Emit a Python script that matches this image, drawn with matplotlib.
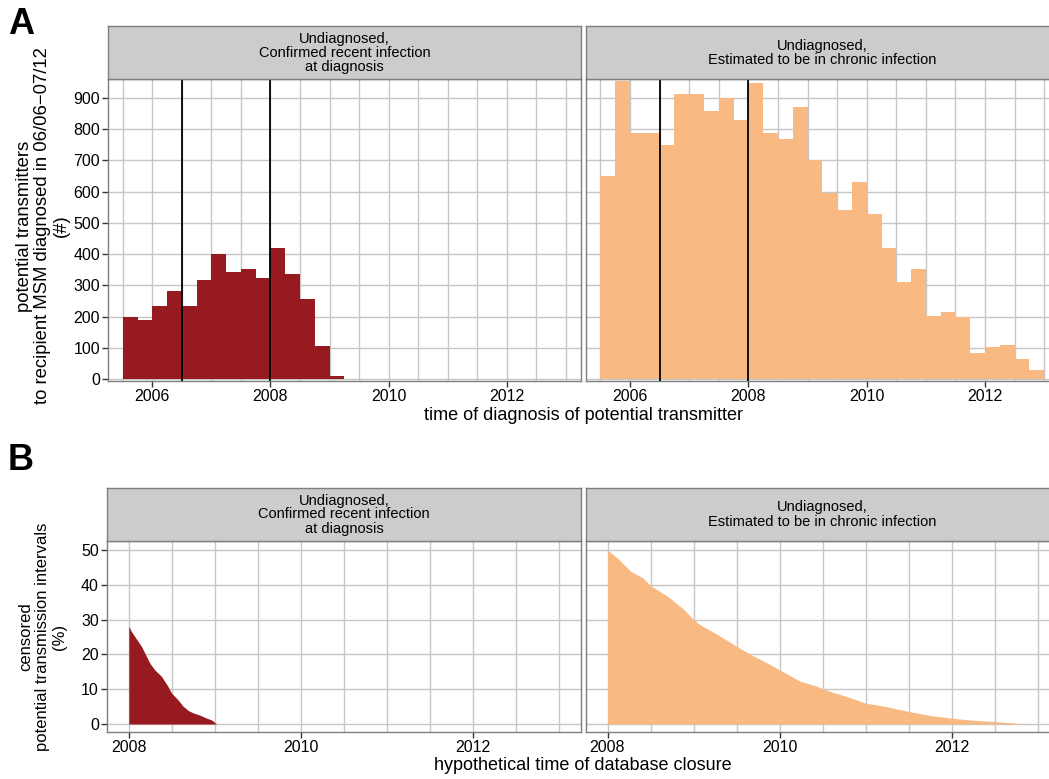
import matplotlib
matplotlib.use("Agg")
import matplotlib.pyplot as plt
import numpy as np

plt.rcParams['font.family'] = ['Liberation Sans', 'DejaVu Sans']

# ---------------- data ----------------
bin_start = 2005.5
bin_width = 0.25
recent_counts = [200, 188, 235, 283, 235, 318, 401, 344, 353, 324, 420, 337, 257, 107, 12]
chronic_counts = [650, 953, 788, 788, 749, 912, 912, 857, 900, 829, 947, 788, 768, 871,
                  700, 597, 541, 632, 529, 420, 312, 353, 203, 216, 199, 85, 103, 109, 66, 31]
vlines_A = [2006.5, 2008.0]

recent_cens_t = [2008.0, 2008.03, 2008.147, 2008.244, 2008.3, 2008.379, 2008.45, 2008.496,
                 2008.57, 2008.631, 2008.69, 2008.747, 2008.83, 2008.902, 2008.96, 2009.02, 2013.0]
recent_cens_v = [28.1, 26.6, 22.3, 17.5, 15.6, 13.7, 11.0, 8.9, 7.0, 5.1, 3.9, 3.2, 2.5, 1.7, 1.2, 0.0, 0.0]

chronic_cens_t = [2008.0, 2008.116, 2008.27, 2008.41, 2008.5, 2008.7, 2008.89, 2009.0, 2009.08,
                  2009.28, 2009.47, 2009.67, 2009.86, 2010.0, 2010.24, 2010.44, 2010.5, 2010.83,
                  2011.0, 2011.22, 2011.5, 2011.76, 2012.0, 2012.19, 2012.5, 2012.77, 2013.0]
chronic_cens_v = [50.0, 47.7, 43.9, 42.0, 39.8, 36.7, 32.9, 30.0, 28.5, 25.7, 22.8, 19.9, 17.5,
                  15.6, 12.3, 10.8, 10.1, 7.5, 6.0, 5.1, 3.6, 2.4, 1.7, 1.2, 0.7, 0.2, 0.0]

strip_left = "Undiagnosed,\nConfirmed recent infection\nat diagnosis"
strip_right = "Undiagnosed,\nEstimated to be in chronic infection"

xticks_A = [2006, 2008, 2010, 2012]
xticks_B = [2008, 2010, 2012]
yticks_A = list(range(0, 1000, 100))
yticks_B = [0, 10, 20, 30, 40, 50]

RED = '#971A20'
PEACH = '#F9B982'
GRID = '#C6C6C6'
BORDER = '#7F7F7F'
STRIP = '#CCCCCC'

W, H = 1049, 779
fig = plt.figure(figsize=(W / 100, H / 100), dpi=100)


def px_axes(x0, y0, x1, y1):
    return fig.add_axes([x0 / W, 1 - y1 / H, (x1 - x0) / W, (y1 - y0) / H])


def style_panel(ax, xlim, ylim, xticks, yticks, xgrid, show_y):
    ax.set_xlim(*xlim)
    ax.set_ylim(*ylim)
    ax.set_facecolor('white')
    for v in xgrid:
        ax.axvline(v, color=GRID, lw=1.0, zorder=0)
    for v in yticks:
        ax.axhline(v, color=GRID, lw=1.0, zorder=0)
    ax.set_xticks(xticks)
    ax.set_xticklabels([str(t) for t in xticks], fontsize=11.5)
    ax.tick_params(direction='out', length=4, width=1, color='#333333', pad=2,
                   labelcolor='black')
    if show_y:
        ax.set_yticks(yticks)
        ax.set_yticklabels([str(t) for t in yticks], fontsize=11.5)
    else:
        ax.set_yticks([])
    for s in ax.spines.values():
        s.set_color(BORDER)
        s.set_linewidth(1.0)


def strip(x0, y0, x1, y1, text):
    sax = px_axes(x0, y0, x1, y1)
    sax.set_facecolor(STRIP)
    sax.set_xticks([])
    sax.set_yticks([])
    for s in sax.spines.values():
        s.set_color(BORDER)
        s.set_linewidth(1.0)
    sax.text(0.5, 0.5, text, ha='center', va='center', fontsize=10.5,
             linespacing=1.0, transform=sax.transAxes)


xgrid_A = np.arange(2005.5, 2013.01, 0.5)
xgrid_B = np.arange(2008.0, 2013.01, 0.5)
xlim_A = (2005.255, 2013.25)
xlim_B = (2007.75, 2013.25)
ylim_A = (-4.5, 958.8)
ylim_B = (-2.3, 52.7)

edges_recent = bin_start + bin_width * np.arange(len(recent_counts))
edges_chronic = bin_start + bin_width * np.arange(len(chronic_counts))

# Panel A left
axA1 = px_axes(108.3, 79.3, 580.7, 380.7)
style_panel(axA1, xlim_A, ylim_A, xticks_A, yticks_A, xgrid_A, True)
axA1.bar(edges_recent, recent_counts, width=bin_width, align='edge', color=RED,
         linewidth=0, zorder=2)
for v in vlines_A:
    axA1.axvline(v, color='black', lw=1.3, zorder=3)
strip(108.3, 26, 580.7, 79.3, strip_left)

# Panel A right
axA2 = px_axes(586, 79.3, 1059, 380.7)
style_panel(axA2, xlim_A, ylim_A, xticks_A, yticks_A, xgrid_A, False)
axA2.bar(edges_chronic, chronic_counts, width=bin_width, align='edge', color=PEACH,
         linewidth=0, zorder=2)
for v in vlines_A:
    axA2.axvline(v, color='black', lw=1.3, zorder=3)
strip(586, 26, 1059, 79.3, strip_right)

# Panel B left
axB1 = px_axes(107.3, 540.7, 580.7, 732)
style_panel(axB1, xlim_B, ylim_B, xticks_B, yticks_B, xgrid_B, True)
axB1.fill_between(recent_cens_t, 0, recent_cens_v, color=RED, linewidth=0, zorder=2)
strip(107.3, 488.3, 580.7, 540.7, strip_left)

# Panel B right
axB2 = px_axes(586, 540.7, 1059, 732)
style_panel(axB2, xlim_B, ylim_B, xticks_B, yticks_B, xgrid_B, False)
axB2.fill_between(chronic_cens_t, 0, chronic_cens_v, color=PEACH, linewidth=0, zorder=2)
strip(586, 488.3, 1059, 540.7, strip_right)

# Titles and labels
fig.text(21 / W, 1 - 25 / H, 'A', fontsize=26, fontweight='bold', ha='center', va='center')
fig.text(21 / W, 1 - 460 / H, 'B', fontsize=26, fontweight='bold', ha='center', va='center')

fig.text(43 / W, 1 - 226 / H,
         'potential transmitters\nto recipient MSM diagnosed in 06/06\u221207/12\n(#)',
         rotation=90, ha='center', va='center', fontsize=13.3, linespacing=1.08)
fig.text(43 / W, 1 - 637 / H,
         'censored\npotential transmission intervals\n(%)',
         rotation=90, ha='center', va='center', fontsize=12, linespacing=1.15)

fig.text(583 / W, 1 - 416 / H, 'time of diagnosis of potential transmitter',
         ha='center', va='center', fontsize=13)
fig.text(583 / W, 1 - 766 / H, 'hypothetical time of database closure',
         ha='center', va='center', fontsize=13)

fig.savefig('out.png', dpi=100)
